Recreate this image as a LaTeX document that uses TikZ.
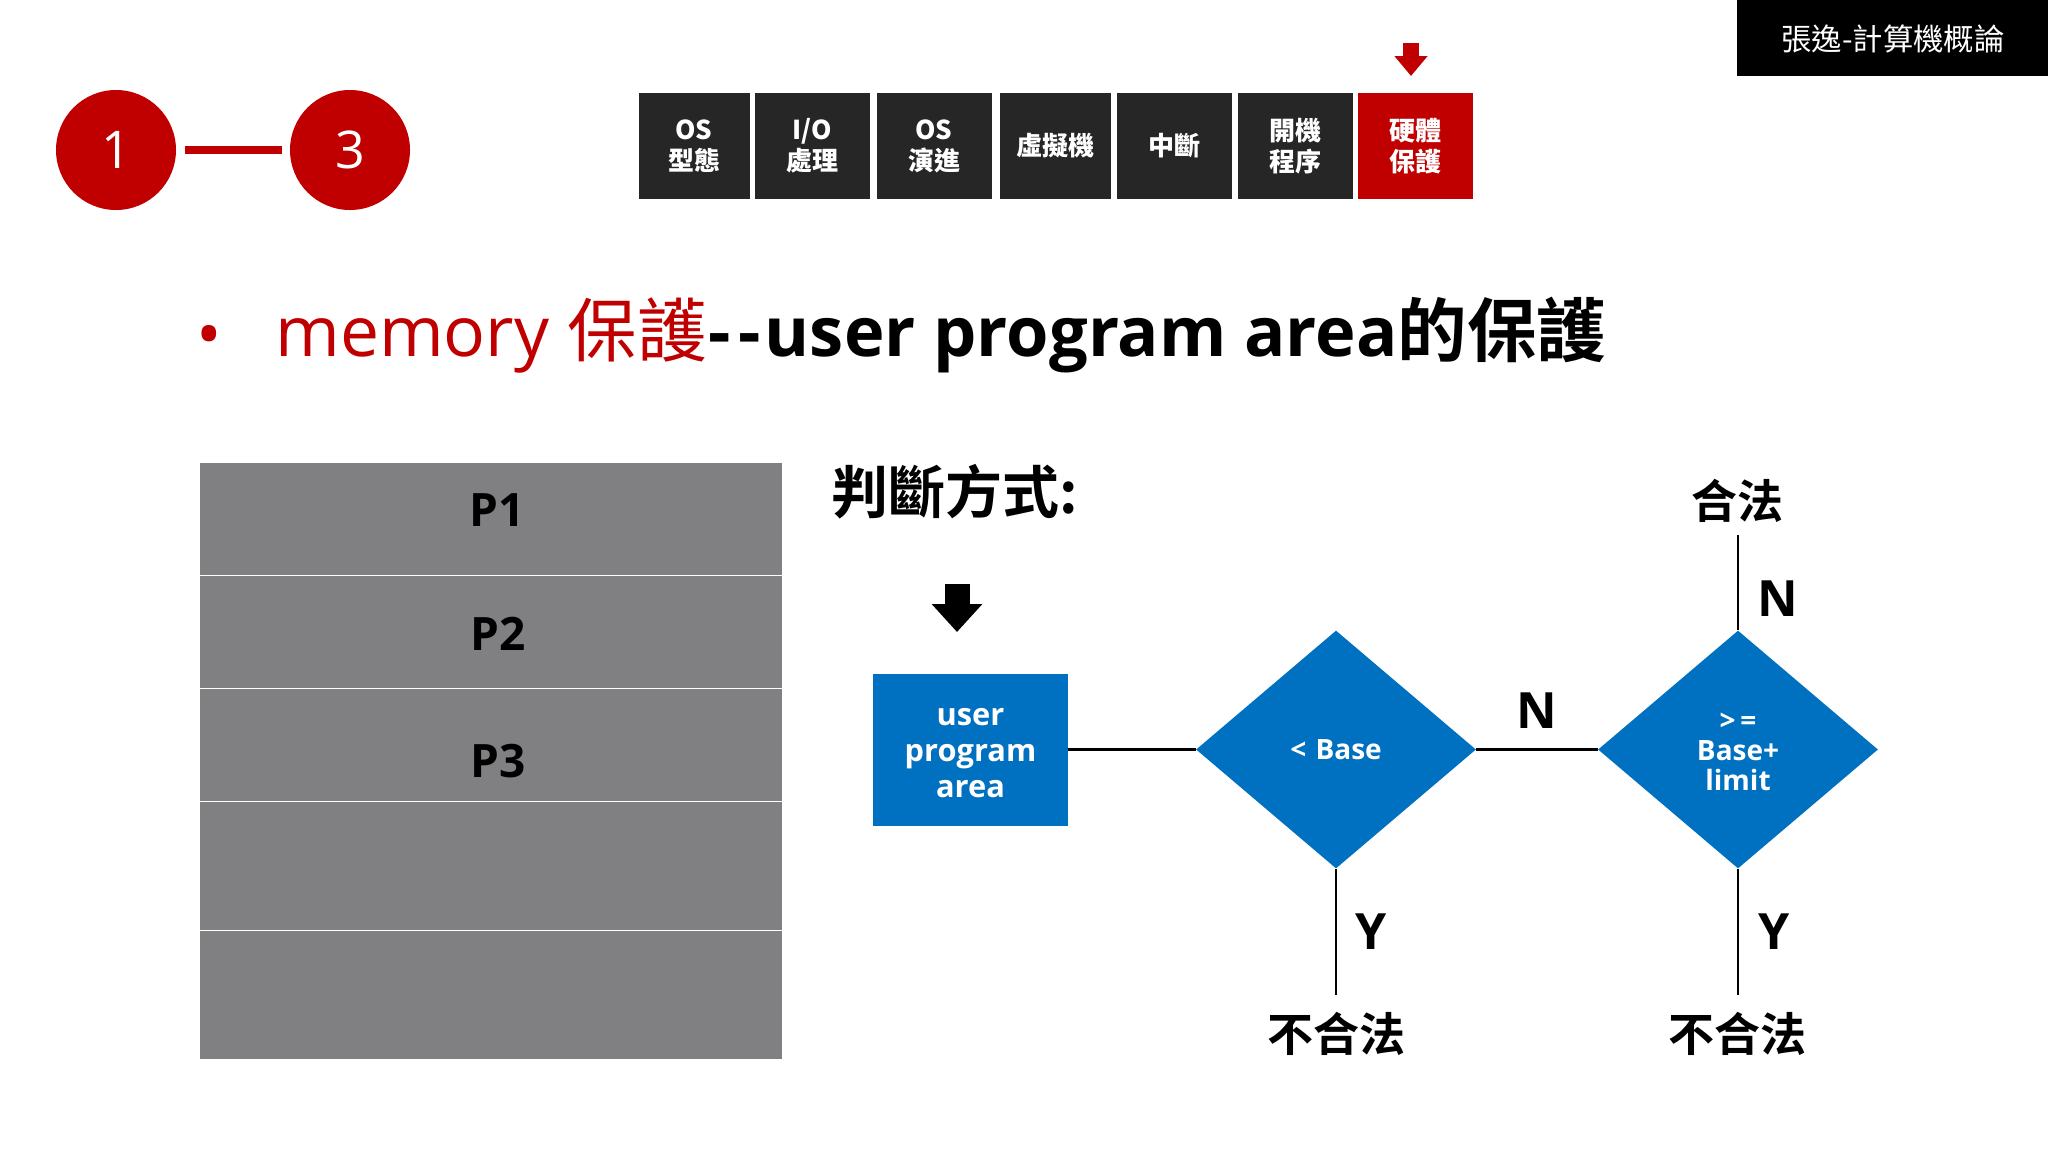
\documentclass[tikz,border=0pt]{standalone}
\usepackage{fontspec}
\usetikzlibrary{shapes.geometric,arrows.meta}
\setmainfont{Open Sans}
\newfontfamily\cjk{Noto Sans CJK TC}
\newfontfamily\cjkbold{Noto Sans CJK TC Bold}
\definecolor{darkred}{HTML}{C00000}
\definecolor{boxblue}{HTML}{0070C0}
\definecolor{tabgray}{HTML}{262626}
\definecolor{memgray}{HTML}{807F81}
\tikzset{
    tab/.style={rectangle,inner sep=0,fill=tabgray,text=white,align=center,font=\fontsize{13}{15.5}\selectfont\bfseries\cjkbold},
    redball/.style={circle,inner sep=0,minimum size=60pt,fill=darkred,text=white,font=\fontsize{26}{30}\selectfont},
    memrow/.style={rectangle,inner sep=0,minimum width=291.5pt,fill=memgray,draw=white,line width=0.6pt},
    memtext/.style={font=\fontsize{23}{27}\selectfont\bfseries,text=black},
    flowbox/.style={inner sep=0,fill=boxblue,text=white,align=center,font=\fontsize{15.4}{18}\selectfont\bfseries},
    decide/.style={diamond,inner sep=0,minimum width=140pt,minimum height=119pt,fill=boxblue,text=white,align=center,font=\fontsize{14}{15}\selectfont\bfseries},
    result/.style={font=\fontsize{23}{27}\selectfont\cjkbold},
    yesno/.style={font=\fontsize{25}{29}\selectfont\bfseries},
    link/.style={draw=black,line width=1.1pt},
}
\begin{document}
\begin{tikzpicture}[x=0.5pt,y=-0.5pt]
    \useasboundingbox (0,0) rectangle (2048,1152);
    % chapter mark
    \node[redball] (one) at (116,150) {1};
    \node[redball] (three) at (350,150) {3};
    \draw[darkred,line width=4pt] ([xshift=4.5pt]one.east) -- ([xshift=-4pt]three.west);
    % top tabs
    \node[tab,minimum width=55.5pt,minimum height=53pt] (os1) at (694,146) {OS\\型態};
    \node[tab,minimum width=57.5pt,minimum height=53pt] (io) at (812.5,146) {I/O\\處理};
    \node[tab,minimum width=57.5pt,minimum height=53pt] (os2) at (934,146) {OS\\演進};
    \node[tab,minimum width=55.5pt,minimum height=53pt] (vm) at (1055,146) {虛擬機};
    \node[tab,minimum width=57.5pt,minimum height=53pt] (irq) at (1174,146) {中斷};
    \node[tab,minimum width=57.5pt,minimum height=53pt] (boot) at (1295,146) {開機\\程序};
    \node[tab,fill=darkred,minimum width=57.5pt,minimum height=53pt] (hw) at (1415.5,146) {硬體\\保護};
    \coordinate (hwtop) at (1411,43);
    \coordinate (hwtip) at (1411,76);
    \draw[darkred,line width=8pt,-{Triangle[length=10pt,width=16pt]}] (hwtop) -- (hwtip);
    % course tag
    \fill[black] (1737,0) rectangle (2048,76);
    \node[text=white,font=\fontsize{15.2}{18}\selectfont\cjk] (tag) at (1893,39) {張逸-計算機概論};
    % title
    \node[anchor=base west,inner sep=0,text=darkred,font=\fontsize{34}{40}\selectfont] (bullet) at (196,358) {•};
    \node[anchor=base west,inner sep=0,font=\fontsize{34.8}{40}\selectfont] (title) at (275,356)
        {\textcolor{darkred}{memory {\cjk 保護}}\hspace{1pt}\textbf{-}\hspace{3.5pt}\textbf{-}\hspace{2.2pt}{\fontsize{34.3}{40}\selectfont\textbf{user program area}}{\cjkbold 的保護}};
    % memory
    \node[memrow,anchor=north west,minimum height=56.5pt] (r1) at (199,462) {};
    \node[memrow,anchor=north west,minimum height=56.5pt] (r2) at (199,575) {};
    \node[memrow,anchor=north west,minimum height=56.5pt] (r3) at (199,688) {};
    \node[memrow,anchor=north west,minimum height=64.5pt] (r4) at (199,801) {};
    \node[memrow,anchor=north west,minimum height=64.5pt] (r5) at (199,930) {};
    \node[memtext] (p1) at (497,510) {P1};
    \node[memtext] (p2) at (498,634) {P2};
    \node[memtext] (p3) at (498,761) {P3};
    % flow
    \node[font=\fontsize{28.5}{32}\selectfont\cjkbold,inner sep=0] (how) at (955,492) {判斷方式:};
    \coordinate (intop) at (957,584);
    \coordinate (intip) at (957,632);
    \draw[black,line width=12.5pt,-{Triangle[length=14pt,width=24.5pt]}] (intop) -- (intip);
    \node[flowbox,minimum width=97.5pt,minimum height=76pt] (area) at (970.5,749.5) {\rule{0pt}{12pt}user\\program\\area};
    \node[decide] (base) at (1336,749.5) {<\,\,Base};
    \node[decide] (limit) at (1738,749.5) {\rule{0pt}{11pt}>\,=\\Base+\\limit};
    \node[result] (ok) at (1737,501) {合法};
    \node[result] (bad1) at (1336,1034) {不合法};
    \node[result] (bad2) at (1737,1034) {不合法};
    \coordinate (okend) at (1738,535);
    \coordinate (bad1end) at (1336,995);
    \coordinate (bad2end) at (1738,995);
    \draw[link] (area) -- (base);
    \draw[link] (base) -- node[yshift=19.5pt,yesno] {N} (limit);
    \draw[link] (limit.north) -- node[xshift=20pt,yshift=-8pt,yesno] {N} (okend);
    \draw[link] (base.south) -- node[xshift=17.5pt,yesno] {Y} (bad1end);
    \draw[link] (limit.south) -- node[xshift=18pt,yesno] {Y} (bad2end);
\end{tikzpicture}
\end{document}
